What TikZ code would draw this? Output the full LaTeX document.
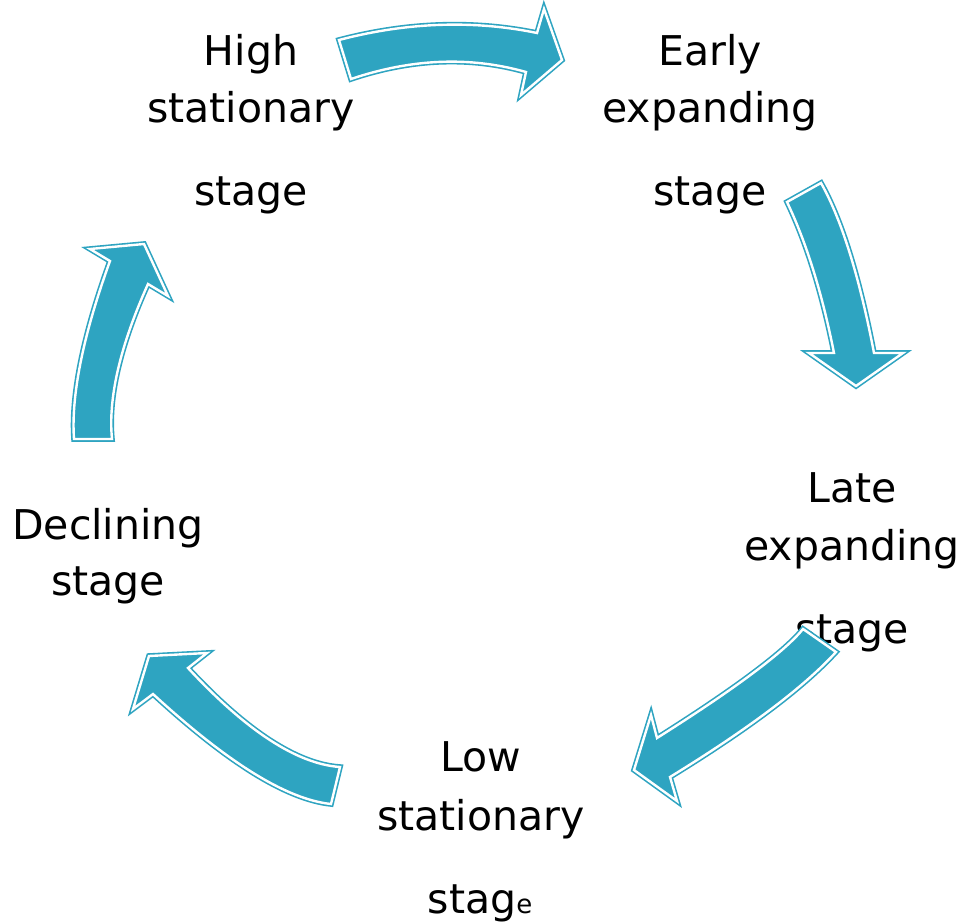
\documentclass[tikz,border=0pt]{standalone}
\usepackage{fontspec}
\setmainfont{DejaVu Sans}
\definecolor{arrowc}{RGB}{46,164,193}
\begin{document}
\begin{tikzpicture}[x=1pt,y=-1pt,
  lbl/.style={anchor=base,inner sep=0pt,font=\fontsize{41}{49}\selectfont},
  blockarrow/.style={fill=arrowc,draw=arrowc,line width=1.6pt,double=white,double distance=2.4pt,miter limit=6}]
\fill[white] (0,0) rectangle (963,923);
\useasboundingbox (0,0) rectangle (963,923);
% High stationary stage
\node[lbl] (hs1) at (251,66) {High};
\node[lbl] (hs2) at (251,122) {stationary};
\node[lbl] (hs3) at (251,205) {stage};
% Early expanding stage
\node[lbl] (ee1) at (710,66) {Early};
\node[lbl] (ee2) at (710,122) {expanding};
\node[lbl] (ee3) at (710,205) {stage};
% Late expanding stage
\node[lbl] (le1) at (852,502) {Late};
\node[lbl] (le2) at (852,560) {expanding};
\node[lbl] (le3) at (852,643) {stage};
% Low stationary stage
\node[lbl] (ls1) at (481,771) {Low};
\node[lbl] (ls2) at (481,830) {stationary};
\node[lbl] (ls3) at (480,913) {stag{\fontsize{26}{30}\selectfont e}};
% Declining stage
\node[lbl] (ds1) at (108,539) {Declining};
\node[lbl] (ds2) at (108,595) {stage};
% arrow 1: High -> Early
\filldraw[blockarrow] (339,40) .. controls (407.7,22) and (474,20) .. (537,33)
  -- (544,9) -- (562,60) -- (521,95) -- (526,72)
  .. controls (469.3,56) and (411.3,58.7) .. (351,79) -- cycle;
% arrow 2: Early -> Late
\filldraw[blockarrow] (787,202) -- (821,183) .. controls (841.7,219.7) and (859.3,276.7) .. (874,353)
  -- (903,353) -- (856,386) -- (809,353) -- (834,353)
  .. controls (822,292.7) and (806.3,242.3) .. (787,202) -- cycle;
% arrow 3: Late -> Low
\filldraw[blockarrow] (803,629) .. controls (785,651.3) and (736.3,688) .. (657,738)
  -- (651,715) -- (634,770) -- (677,801) -- (670,777)
  .. controls (747.7,729.3) and (803.3,687.7) .. (836,652) -- cycle;
% arrow 4: Low -> Declining
\filldraw[blockarrow] (340,767) .. controls (297.3,764) and (246.7,731.3) .. (188,668)
  -- (207,653) -- (149,656) -- (133,709) -- (153,694)
  .. controls (227.3,762.3) and (286.3,799.3) .. (331,804) -- cycle;
% arrow 5: Declining -> High
\filldraw[blockarrow] (74,439) .. controls (71,397) and (82.3,337.3) .. (110,261)
  -- (90,249) -- (144,244) -- (168,296) -- (148,284)
  .. controls (119.7,346.7) and (108,398.7) .. (112,439) -- cycle;
\end{tikzpicture}
\end{document}
